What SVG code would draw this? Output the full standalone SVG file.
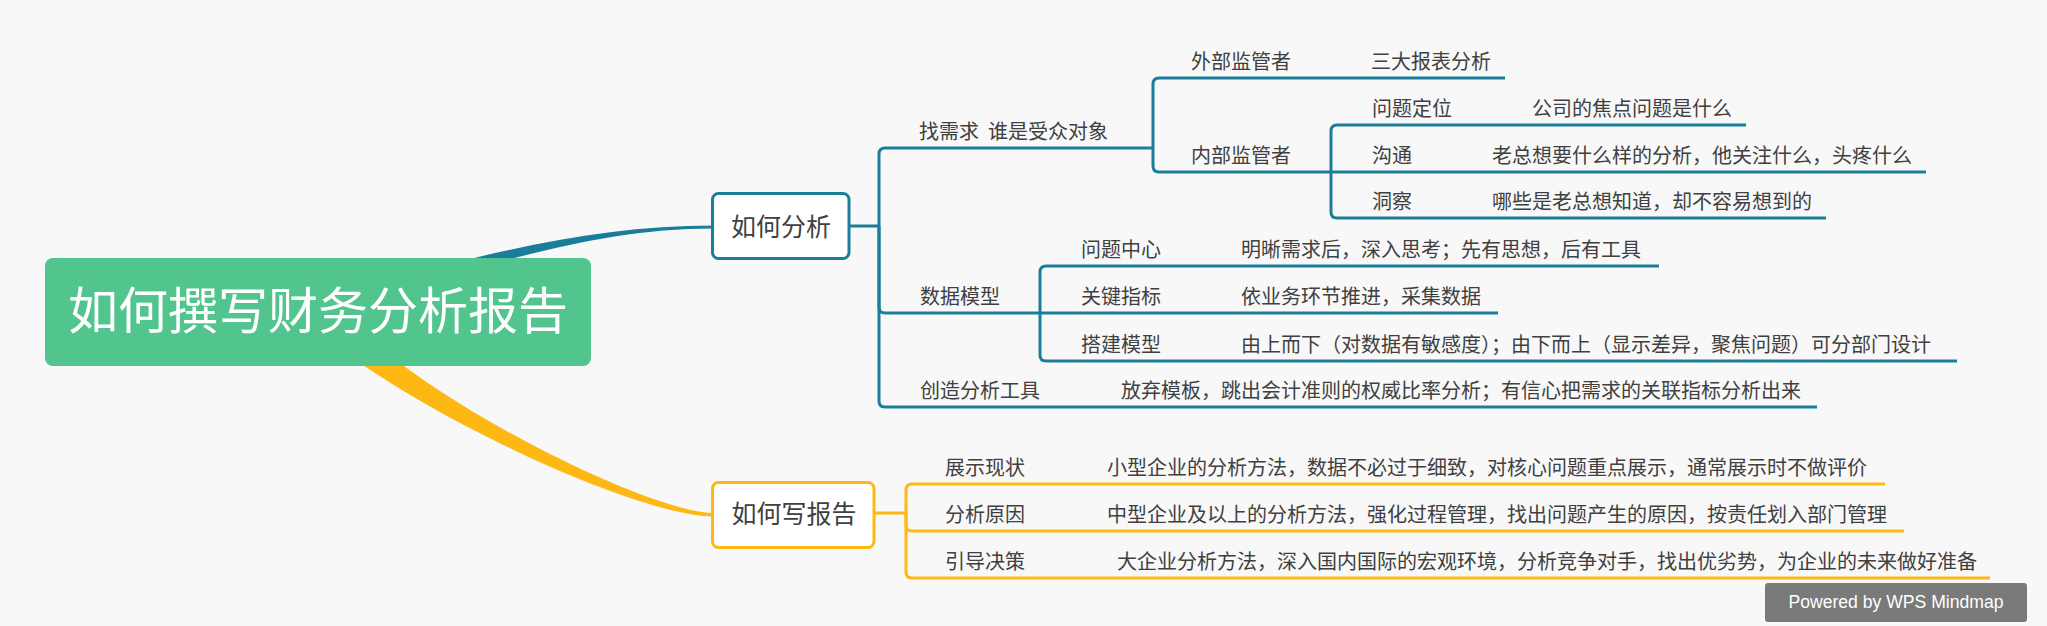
<svg xmlns="http://www.w3.org/2000/svg" width="2047" height="626" viewBox="0 0 2047 626">
<style>
.t{font-family:"Noto Sans CJK SC","Noto Sans",sans-serif;font-size:20px;fill:#404040}
.m{font-family:"Noto Sans CJK SC","Noto Sans",sans-serif;font-size:25px;fill:#404040;text-anchor:middle}
.tl{fill:none;stroke:#1a7e9a;stroke-width:3;stroke-linecap:butt}
.yl{fill:none;stroke:#fdb814;stroke-width:3;stroke-linecap:butt}
</style>
<rect x="0" y="0" width="2047" height="626" fill="#f8f8f8"/>
<g id="connectors">
<path d="M 380 282 C 500 250, 600 225.5, 714 225.5 L 714 228.5 C 610 228.5, 530 255, 420 282 Z" fill="#1a7e9a"/>
<path d="M 340 310 C 420 400, 650 513, 714 513 L 714 516.5 C 630 516.5, 380 395, 310 322 Z" fill="#fdb814"/>
<path class="tl" d="M 849 226 H 879"/>
<path class="tl" d="M 879 226 V 154 Q 879 148 885 148 H 1153"/>
<path class="tl" d="M 879 226 V 307 Q 879 313 885 313 H 1040"/>
<path class="tl" d="M 879 226 V 401 Q 879 407 885 407 H 1817"/>
<path class="tl" d="M 1153 148 V 84 Q 1153 78 1159 78 H 1505"/>
<path class="tl" d="M 1153 148 V 166 Q 1153 172 1159 172 H 1331"/>
<path class="tl" d="M 1331 172 V 131 Q 1331 125 1337 125 H 1746"/>
<path class="tl" d="M 1331 172 H 1926"/>
<path class="tl" d="M 1331 172 V 212 Q 1331 218 1337 218 H 1826"/>
<path class="tl" d="M 1040 313 V 272 Q 1040 266 1046 266 H 1659"/>
<path class="tl" d="M 1040 313 H 1498"/>
<path class="tl" d="M 1040 313 V 355 Q 1040 361 1046 361 H 1957"/>
<path class="yl" d="M 873 513 H 906"/>
<path class="yl" d="M 906 513 V 490 Q 906 484 912 484 H 1885"/>
<path class="yl" d="M 906 513 V 525 Q 906 531 912 531 H 1904"/>
<path class="yl" d="M 906 513 V 572 Q 906 578 912 578 H 1990"/>
</g>
<g id="root">
<rect x="45" y="258" width="546" height="108" rx="8" fill="#52c48d"/>
<text x="318" y="329" style="font-family:'Noto Sans CJK SC','Noto Sans',sans-serif;font-size:50px;fill:#ffffff;text-anchor:middle">如何撰写财务分析报告</text>
</g>
<g id="n-analyze">
<rect x="712.5" y="193.5" width="136.5" height="65" rx="6" fill="#ffffff" stroke="#1a7e9a" stroke-width="3"/>
<text class="m" x="781" y="235.5">如何分析</text>
</g>
<g id="n-report">
<rect x="712.5" y="482.5" width="161.5" height="65" rx="6" fill="#ffffff" stroke="#fdb814" stroke-width="3"/>
<text class="m" x="794" y="522.5">如何写报告</text>
</g>
<g id="n-need"><text class="t" x="919" y="138.5" xml:space="preserve">找需求  谁是受众对象</text></g>
<g id="n-external"><text class="t" x="1191" y="68.5">外部监管者</text></g>
<g id="n-external-1"><text class="t" x="1371" y="68.5">三大报表分析</text></g>
<g id="n-internal"><text class="t" x="1191" y="162.5">内部监管者</text></g>
<g id="n-locate"><text class="t" x="1372" y="115.5">问题定位</text></g>
<g id="n-locate-1"><text class="t" x="1532" y="115.5">公司的焦点问题是什么</text></g>
<g id="n-comm"><text class="t" x="1372" y="162.5">沟通</text></g>
<g id="n-comm-1"><text class="t" x="1492" y="162.5">老总想要什么样的分析，他关注什么，头疼什么</text></g>
<g id="n-insight"><text class="t" x="1372" y="208.5">洞察</text></g>
<g id="n-insight-1"><text class="t" x="1492" y="208.5">哪些是老总想知道，却不容易想到的</text></g>
<g id="n-model"><text class="t" x="920" y="303.5">数据模型</text></g>
<g id="n-center"><text class="t" x="1081" y="256.5">问题中心</text></g>
<g id="n-center-1"><text class="t" x="1241" y="256.5">明晰需求后，深入思考；先有思想，后有工具</text></g>
<g id="n-kpi"><text class="t" x="1081" y="303.5">关键指标</text></g>
<g id="n-kpi-1"><text class="t" x="1241" y="303.5">依业务环节推进，采集数据</text></g>
<g id="n-build"><text class="t" x="1081" y="351.5">搭建模型</text></g>
<g id="n-build-1"><text class="t" x="1241" y="351.5">由上而下（对数据有敏感度）；由下而上（显示差异，聚焦问题）可分部门设计</text></g>
<g id="n-tool"><text class="t" x="920" y="397.5">创造分析工具</text></g>
<g id="n-tool-1"><text class="t" x="1121" y="397.5">放弃模板，跳出会计准则的权威比率分析；有信心把需求的关联指标分析出来</text></g>
<g id="n-show"><text class="t" x="945" y="475">展示现状</text></g>
<g id="n-show-1"><text class="t" x="1107" y="475">小型企业的分析方法，数据不必过于细致，对核心问题重点展示，通常展示时不做评价</text></g>
<g id="n-cause"><text class="t" x="945" y="522">分析原因</text></g>
<g id="n-cause-1"><text class="t" x="1107" y="522">中型企业及以上的分析方法，强化过程管理，找出问题产生的原因，按责任划入部门管理</text></g>
<g id="n-decide"><text class="t" x="945" y="569">引导决策</text></g>
<g id="n-decide-1"><text class="t" x="1117" y="569">大企业分析方法，深入国内国际的宏观环境，分析竞争对手，找出优劣势，为企业的未来做好准备</text></g>
<g id="watermark">
<rect x="1765" y="583" width="262" height="39" rx="3" fill="#7a7a7a"/>
<text x="1896" y="608" textLength="215" lengthAdjust="spacingAndGlyphs" style="font-family:'Liberation Sans',Arial,sans-serif;font-size:18px;fill:#ffffff;text-anchor:middle">Powered by WPS Mindmap</text>
</g>
</svg>
